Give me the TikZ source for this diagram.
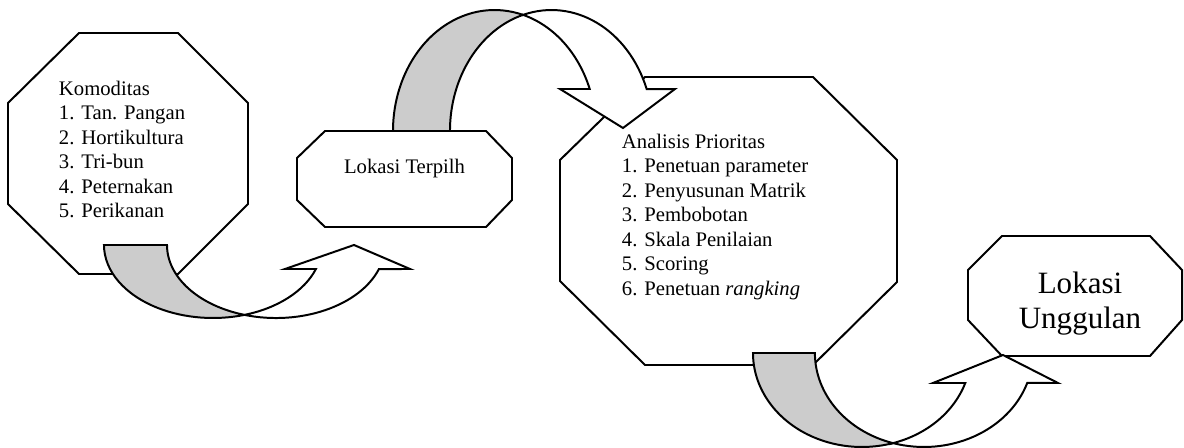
\documentclass[tikz,border=0pt]{standalone}
\usepackage{fontspec}
\setmainfont{Liberation Serif}

\begin{document}
\begin{tikzpicture}[x=0.58pt, y=-0.58pt, line width=1.15pt,
    octa/.style={draw, fill=white},
    band/.style={draw, fill=black!20},
    front/.style={draw, fill=white},
    txt/.style={inner sep=0pt, align=left, font=\fontsize{12}{14.2}\selectfont}]
    \useasboundingbox (0,0) rectangle (1184,448);

    % octagons
    \draw[octa] (79,33) -- (178,33) -- (248,103) -- (248,204) -- (178,274) -- (79,274) -- (8,204) -- (8,103) -- cycle;
    \draw[octa] (325,131) -- (486,131) -- (512,158) -- (512,200) -- (486,227) -- (325,227) -- (297,200) -- (297,158) -- cycle;
    \draw[octa] (645,77) -- (813,77) -- (897,160) -- (897,282) -- (813,365) -- (645,365) -- (560,281) -- (560,160) -- cycle;
    \draw[octa] (1002,236) -- (1150,236) -- (1182,270) -- (1182,320) -- (1150,356) -- (1002,356) -- (968,320) -- (968,270) -- cycle;

    \node[txt, anchor=north west] (komoditas) at (58,80) {Komoditas\\1. Tan. Pangan\\2. Hortikultura\\3. Tri-bun\\4. Peternakan\\5. Perikanan};
    \node[txt, anchor=base] (terpilih) at (404.5,173) {Lokasi Terpilh};
    \node[txt, anchor=north west] (analisis) at (621,133) {Analisis Prioritas\\1. Penetuan parameter\\2. Penyusunan Matrik\\3. Pembobotan\\4. Skala Penilaian\\5. Scoring\\6. Penetuan \textit{rangking}};
    \node[txt, align=center, font=\fontsize{18}{20.3}\selectfont, anchor=north] (unggulan) at (1080,271) {Lokasi\\Unggulan};

    % arrow 1
    \draw[band] (104,245) arc[start angle=180, end angle=73.2, x radius=109, y radius=73]
        arc[start angle=106.8, end angle=180, x radius=109, y radius=73] -- cycle;
    \draw[front] (244.5,314.9) arc[start angle=106.8, end angle=19.2, x radius=109, y radius=73]
        -- (410,269) -- (354,245) -- (285,269) -- (315.9,269)
        arc[start angle=19.2, end angle=73.2, x radius=109, y radius=73] -- cycle;

    % arrow 2
    \draw[band] (393,131) arc[start angle=180, end angle=286.3, x radius=101.5, y radius=121]
        arc[start angle=253.7, end angle=180, x radius=101.5, y radius=121] -- cycle;
    \draw[front] (523,14.9) arc[start angle=253.7, end angle=339.7, x radius=101.5, y radius=121]
        -- (675,89) -- (623,128) -- (560,89) -- (589.7,89)
        arc[start angle=339.7, end angle=286.3, x radius=101.5, y radius=121] -- cycle;

    % arrow 3
    \draw[band] (753,353) arc[start angle=180, end angle=73.5, x radius=109, y radius=94]
        arc[start angle=106.5, end angle=180, x radius=109, y radius=94] -- cycle;
    \draw[front] (893,443.1) arc[start angle=106.5, end angle=18.6, x radius=109, y radius=94]
        -- (1058,383) -- (1003,355) -- (933,383) -- (965.3,383)
        arc[start angle=18.6, end angle=73.5, x radius=109, y radius=94] -- cycle;
\end{tikzpicture}
\end{document}
